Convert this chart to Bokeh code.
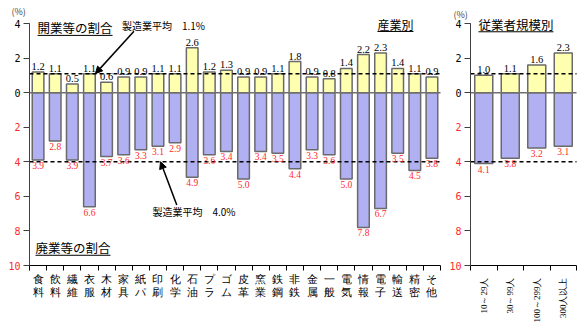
import math
from bokeh.plotting import figure
from bokeh.models import (ColumnDataSource, LabelSet, Label, Arrow, NormalHead,
                          Range1d, FixedTicker, LinearAxis)
from bokeh.layouts import row
from bokeh.embed import file_html
from bokeh.resources import INLINE

# ---------------- data ----------------
industries = ["食料", "飲料", "繊維", "衣服", "木材", "家具", "紙パ", "印刷", "化学", "石油",
              "プラ", "ゴム", "皮革", "窯業", "鉄鋼", "非鉄", "金属", "一般", "電気", "情報",
              "電子", "輸送", "精密", "その他"]
ind_open = [1.2, 1.1, 0.5, 1.1, 0.6, 0.9, 0.9, 1.1, 1.1, 2.6, 1.2, 1.3, 0.9, 0.9, 1.1, 1.8,
            0.9, 0.8, 1.4, 2.2, 2.3, 1.4, 1.1, 0.9]
ind_close = [3.9, 2.8, 3.9, 6.6, 3.7, 3.6, 3.3, 3.1, 2.9, 4.9, 3.6, 3.4, 5.0, 3.4, 3.5, 4.4,
             3.3, 3.6, 5.0, 7.8, 6.7, 3.5, 4.5, 3.8]
sizes = ["10～29人", "30～99人", "100～299人", "300人以上"]
size_open = [1.0, 1.1, 1.6, 2.3]
size_close = [4.1, 3.8, 3.2, 3.1]
avg_open = 1.1
avg_close = 4.0
y_top_ticks = [4, 2, 0]
y_bottom_ticks = [-2, -4, -6, -8, -10]
Y_MAX, Y_MIN = 4, -10

RED = "#FF2A2A"
YELLOW = "#FFFFB0"
BLUE = "#B0B0F2"
JP = "Noto Sans CJK JP"

H = 326
TOP_PX, BOTTOM_PX = 23, 265           # pixel rows of y=4 and y=-10
PPY = (BOTTOM_PX - TOP_PX) / (Y_MAX - Y_MIN)


def panel(width, axis_px, right_px, n):
    ppx = (right_px - axis_px) / n
    x0 = -0.5 - axis_px / ppx
    x1 = -0.5 + (width - axis_px) / ppx
    y1 = Y_MAX + TOP_PX / PPY
    y0 = y1 - H / PPY
    p = figure(width=width, height=H, output_backend="svg", toolbar_location=None,
               title=None, x_range=Range1d(x0, x1), y_range=Range1d(y0, y1),
               min_border=0)
    p.outline_line_color = None
    p.xgrid.visible = False
    p.ygrid.visible = False
    p.background_fill_color = "white"
    p.border_fill_color = "white"
    # y axis (opening side, black labels)
    ya = p.yaxis[0]
    ya.fixed_location = -0.5
    ya.bounds = (Y_MIN, Y_MAX)
    ya.ticker = FixedTicker(ticks=y_top_ticks)
    # second y axis on the same line (closure side, red labels)
    yb = LinearAxis(fixed_location=-0.5, bounds=(Y_MIN, Y_MAX),
                    ticker=FixedTicker(ticks=y_bottom_ticks),
                    major_label_overrides={v: str(abs(v)) for v in y_bottom_ticks})
    p.add_layout(yb, "left")
    for ax, col in ((ya, "black"), (yb, RED)):
        ax.major_label_text_color = col
        ax.major_label_text_font = "DejaVu Sans Mono"
        ax.major_label_text_font_size = "10px"
        ax.major_label_standoff = 3
        ax.major_tick_out = 6
        ax.major_tick_in = 0
        ax.minor_tick_line_color = None
        ax.axis_line_color = "#404040"
        ax.major_tick_line_color = "#404040"
    # x axis: ticks at category boundaries
    xa = p.xaxis[0]
    xa.fixed_location = Y_MIN
    xa.bounds = (-0.5, n - 0.5)
    xa.ticker = FixedTicker(ticks=[i - 0.5 for i in range(n + 1)])
    xa.major_label_text_font_size = "0px"
    xa.major_tick_out = 5
    xa.major_tick_in = 0
    xa.minor_tick_line_color = None
    xa.axis_line_color = "black"
    return p, ppx


def draw(p, opens, closes):
    n = len(opens)
    src = ColumnDataSource(dict(
        x=list(range(n)), op=opens, cl=[-c for c in closes],
        op_t=[f"{v:.1f}" for v in opens], cl_t=[f"{v:.1f}" for v in closes]))
    p.vbar(x="x", top="op", bottom=0, width=0.68, source=src, fill_color=YELLOW,
           line_color="#6a6a6a", line_width=1.5)
    p.vbar(x="x", top=0, bottom="cl", width=0.68, source=src, fill_color=BLUE,
           line_color="#6a6a6a", line_width=1.5)
    # zero line and manufacturing averages
    p.segment(x0=-0.5, y0=0, x1=n - 0.5, y1=0, line_color="#707070", line_width=1.5)
    p.segment(x0=-0.5, y0=avg_open, x1=n - 0.5, y1=avg_open, line_color="black",
              line_width=1.5, line_dash="4 3")
    p.segment(x0=-0.5, y0=-avg_close, x1=n - 0.5, y1=-avg_close, line_color="black",
              line_width=1.5, line_dash="4 3")
    p.add_layout(LabelSet(x="x", y="op", text="op_t", source=src, y_offset=2,
                          text_align="center", text_baseline="bottom",
                          text_font="Liberation Sans", text_font_size="10.5px",
                          text_color="black"))
    p.add_layout(LabelSet(x="x", y="cl", text="cl_t", source=src, y_offset=-2,
                          text_align="center", text_baseline="top",
                          text_font="DejaVu Sans Mono", text_font_size="9.5px",
                          text_color=RED))


def title_label(p, ppx, x, y, text, size, underline=True):
    p.add_layout(Label(x=x, y=y, text=text, text_baseline="middle",
                       text_font=JP, text_font_size=f"{size}px", text_color="black"))
    if underline:
        w = len(text) * size / ppx
        uy = y - (size * 0.62) / PPY
        p.segment(x0=x, y0=uy, x1=x + w, y1=uy, line_color="black", line_width=1)


# ---------------- left panel: industries ----------------
n1 = len(industries)
p1, ppx1 = panel(445, 29, 440, n1)
draw(p1, ind_open, ind_close)
csrc = ColumnDataSource(dict(x=list(range(n1)), y=[Y_MIN] * n1,
                             a=[s[0] for s in industries], b=[s[-1] for s in industries]))
for lab, off in (("a", -13), ("b", -26)):
    p1.add_layout(LabelSet(x="x", y="y", text=lab, source=csrc, y_offset=off,
                           text_align="center", text_baseline="middle",
                           text_font=JP, text_font_size="11px", text_color="black"))

p1.add_layout(Label(x=-0.5, y=Y_MAX, x_offset=-18, y_offset=12, text="(%)",
                    text_baseline="middle", text_font=JP, text_font_size="9px"))
title_label(p1, ppx1, -0.03, 3.76, "開業等の割合", 12.5)
title_label(p1, ppx1, 4.9, 3.9, "製造業平均　1.1%", 10, underline=False)
p1.add_layout(Arrow(end=NormalHead(size=7, fill_color="black", line_color="black"),
                    x_start=5.6, y_start=3.55, x_end=3.35, y_end=avg_open,
                    line_color="black", line_width=1.5))
title_label(p1, ppx1, 19.82, 3.97, "産業別", 12)
title_label(p1, ppx1, 6.68, -6.88, "製造業平均　4.0%", 10, underline=False)
p1.add_layout(Arrow(end=NormalHead(size=7, fill_color="black", line_color="black"),
                    x_start=8.1, y_start=-6.5, x_end=7.15, y_end=-avg_close,
                    line_color="black", line_width=1.5))
title_label(p1, ppx1, -0.15, -8.96, "廃業等の割合", 12.5)

# ---------------- right panel: establishment size ----------------
n2 = len(sizes)
p2, ppx2 = panel(135, 25, 131, n2)
draw(p2, size_open, size_close)
ssrc = ColumnDataSource(dict(x=list(range(n2)), y=[Y_MIN] * n2, t=sizes))
p2.add_layout(LabelSet(x="x", y="y", text="t", source=ssrc, y_offset=-12, angle=math.pi / 2,
                       text_align="right", text_baseline="middle",
                       text_font=JP, text_font_size="9px", text_color="black"))
p2.add_layout(Label(x=-0.5, y=Y_MAX, x_offset=-17, y_offset=9, text="(%)",
                    text_baseline="middle", text_font=JP, text_font_size="9px"))
title_label(p2, ppx2, -0.2, 3.97, "従業者規模別", 12.5)

layout = row(p1, p2)
open("out.html", "w").write(file_html(layout, INLINE))
